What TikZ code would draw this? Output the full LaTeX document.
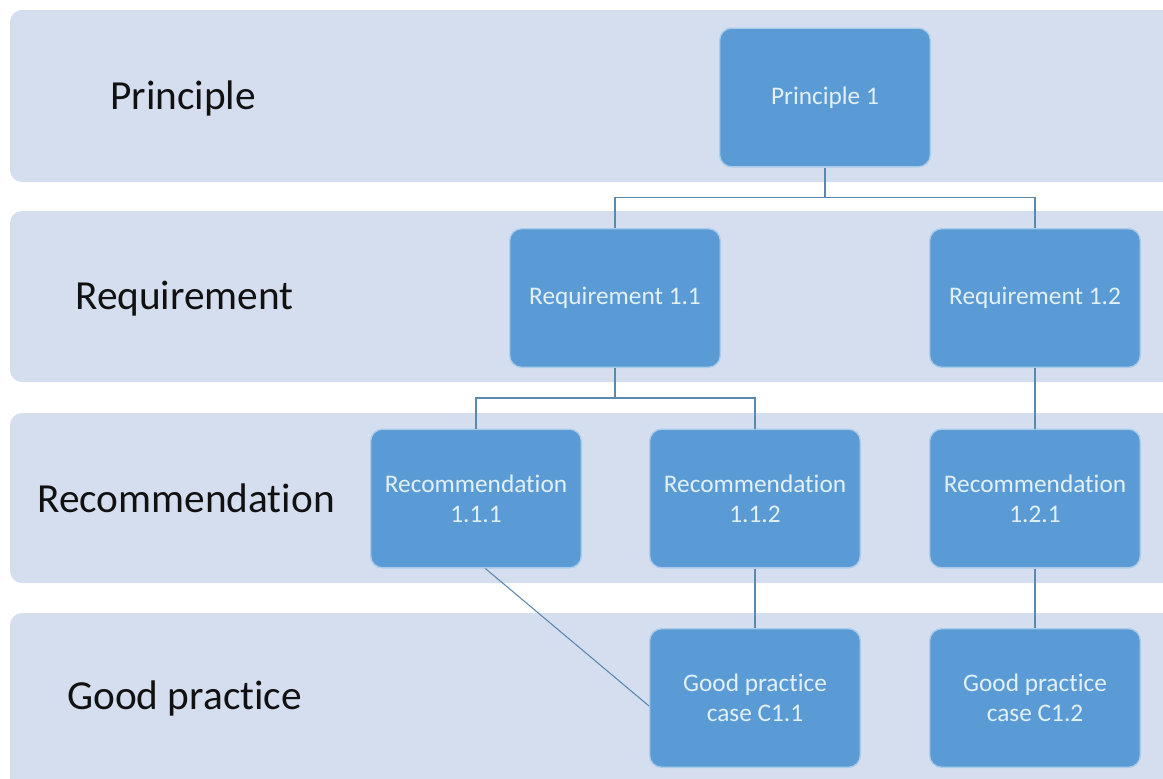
\documentclass[tikz,border=0pt]{standalone}
\usepackage{fontspec}
\setmainfont[Ligatures=NoCommon]{Carlito}
\definecolor{bandfill}{HTML}{D4DEEE}
\definecolor{boxfill}{HTML}{5B9BD5}
\definecolor{boxedge}{HTML}{A9CCEB}
\definecolor{boxtext}{HTML}{E2F0F8}
\definecolor{linkcol}{HTML}{5A88B0}
\definecolor{labeltext}{HTML}{111111}
\begin{document}
\begin{tikzpicture}[x=0.75pt,y=-0.75pt,
  band/.style={fill=bandfill,draw=none,rounded corners=9pt},
  levelbox/.style={rectangle,rounded corners=9pt,fill=boxfill,draw=boxedge,line width=1pt,
    minimum width=158pt,minimum height=104pt,inner sep=2pt,align=center,
    text=boxtext,font=\fontsize{19}{22.5}\selectfont},
  levellabel/.style={anchor=west,inner sep=0pt,text=labeltext,font=\fontsize{31}{36}\selectfont},
  link/.style={draw=linkcol,line width=0.8pt}]
\useasboundingbox (0,0) rectangle (1163,778);
\fill[white] (0,0) rectangle (1163,778);
\clip (0,0) rectangle (1163,778);
% bands
\path[band] (10,10) rectangle (1185,182);
\path[band] (10,211) rectangle (1185,382);
\path[band] (10,413) rectangle (1185,583);
\path[band] (10,613) rectangle (1185,800);
% level labels
\node[levellabel] (lp) at (110,98) {Principle};
\node[levellabel] (lr) at (75,299) {Requirement};
\node[levellabel] (lc) at (37,498) {Recommendation};
\node[levellabel] (lg) at (67,698) {Good practice};
% boxes
\node[levelbox] (p1) at (825,97.5) {Principle 1};
\node[levelbox] (r11) at (615,298) {Requirement 1.1};
\node[levelbox] (r12) at (1035,298) {Requirement 1.2};
\node[levelbox] (c111) at (476,498.5) {Recommendation\\1.1.1};
\node[levelbox] (c112) at (755,498.5) {Recommendation\\1.1.2};
\node[levelbox] (c121) at (1035,498.5) {Recommendation\\1.2.1};
\node[levelbox] (g11) at (755,698) {Good practice\\case C1.1};
\node[levelbox] (g12) at (1035,698) {Good practice\\case C1.2};
% connectors
\draw[link] (p1.south) -- ++(0,30) -| (r11.north);
\draw[link] (p1.south) -- ++(0,30) -| (r12.north);
\draw[link] (r11.south) -- ++(0,30) -| (c111.north);
\draw[link] (r11.south) -- ++(0,30) -| (c112.north);
\draw[link] (r12.south) -- (c121.north);
\draw[link] (c112.south) -- (g11.north);
\draw[link] (c121.south) -- (g12.north);
\draw[link] ([xshift=7pt]c111.south) -- ([yshift=-6pt]g11.west);
\end{tikzpicture}
\end{document}
